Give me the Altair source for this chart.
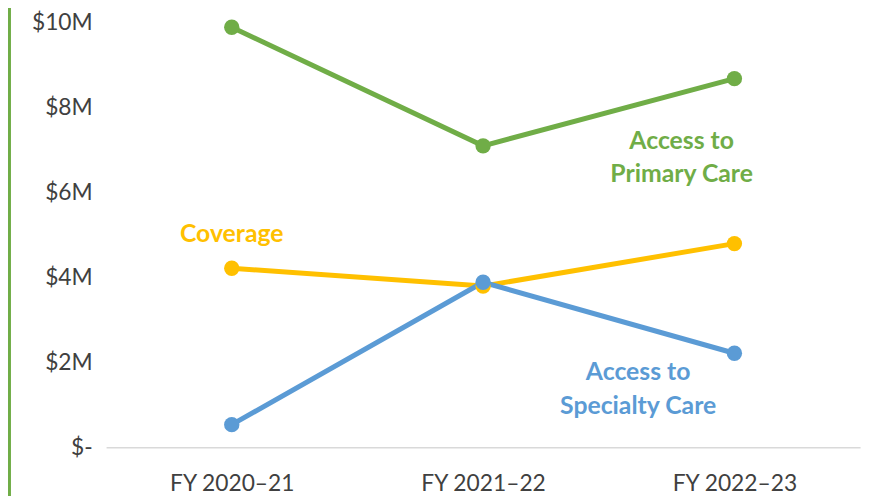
import altair as alt
import pandas as pd

years = ["FY 2020–21", "FY 2021–22", "FY 2022–23"]
series = ["Access to Primary Care", "Coverage", "Access to Specialty Care"]
primary = [9.88, 7.09, 8.67]
coverage = [4.21, 3.79, 4.79]
specialty = [0.53, 3.88, 2.21]
colors = ["#70ad47", "#ffc000", "#5b9bd5"]

# annotation labels (x in category index units, y in $M of first line)
ann_text = [["Access to", "Primary Care"], ["Coverage"], ["Access to", "Specialty Care"]]
ann_x = [1.79, 0.0, 1.617]
ann_y = [7.21, 5.02, 1.77]

rows = []
for s, vals in zip(series, [primary, coverage, specialty]):
    for i, v in enumerate(vals):
        rows.append({"series": s, "idx": i, "value": v})
df = pd.DataFrame(rows)
ann = pd.DataFrame({"series": series, "text": ann_text, "x": ann_x, "y": ann_y})

FONT = "Lato"
xscale = alt.Scale(domain=[-0.5, 2.5], nice=False, zero=False)
yscale = alt.Scale(domain=[0, 10], nice=False)
cscale = alt.Scale(domain=series, range=colors)

label_expr = "datum.value == 0 ? 'FY 2020–21' : datum.value == 1 ? 'FY 2021–22' : 'FY 2022–23'"

base = alt.Chart(df).encode(
    x=alt.X("idx:Q", scale=xscale, axis=alt.Axis(
        values=[0, 1, 2], labelExpr=label_expr, title=None, ticks=False, grid=False,
        domain=True, domainColor="#d9d9d9", domainWidth=1.5,
        labelFont=FONT, labelFontSize=23, labelColor="#404040", labelPadding=26)),
    y=alt.Y("value:Q", scale=yscale, axis=alt.Axis(
        values=[0, 2, 4, 6, 8, 10],
        labelExpr="datum.value == 0 ? '$-' : '$' + datum.value + 'M'",
        title=None, ticks=False, grid=False, domain=False,
        labelFont=FONT, labelFontSize=23, labelColor="#404040", labelPadding=14)),
    color=alt.Color("series:N", scale=cscale, legend=None),
    detail="series:N",
)

lines = base.mark_line(strokeWidth=5)
points = base.mark_point(filled=True, size=240, opacity=1)

labels = alt.Chart(ann).mark_text(
    font=FONT, fontSize=25, fontWeight="bold", lineHeight=34, baseline="middle", align="center"
).encode(
    x=alt.X("x:Q", scale=xscale),
    y=alt.Y("y:Q", scale=yscale),
    text="text",
    color=alt.Color("series:N", scale=cscale, legend=None),
)

frame = alt.Chart(pd.DataFrame({"a": [0]})).mark_rule(color="#70ad47", strokeWidth=3).encode(
    x=alt.value(-97.5), y=alt.value(-20), y2=alt.value(520)
)

chart = alt.layer(lines, points, labels, frame).properties(
    width=761, height=429,
    padding={"left": 99, "top": 12, "right": 8, "bottom": 47},
    autosize=alt.AutoSizeParams(type="none"),
).configure_view(stroke=None, clip=False)

chart.save("out.html", embed_options={"renderer": "svg", "actions": False})
